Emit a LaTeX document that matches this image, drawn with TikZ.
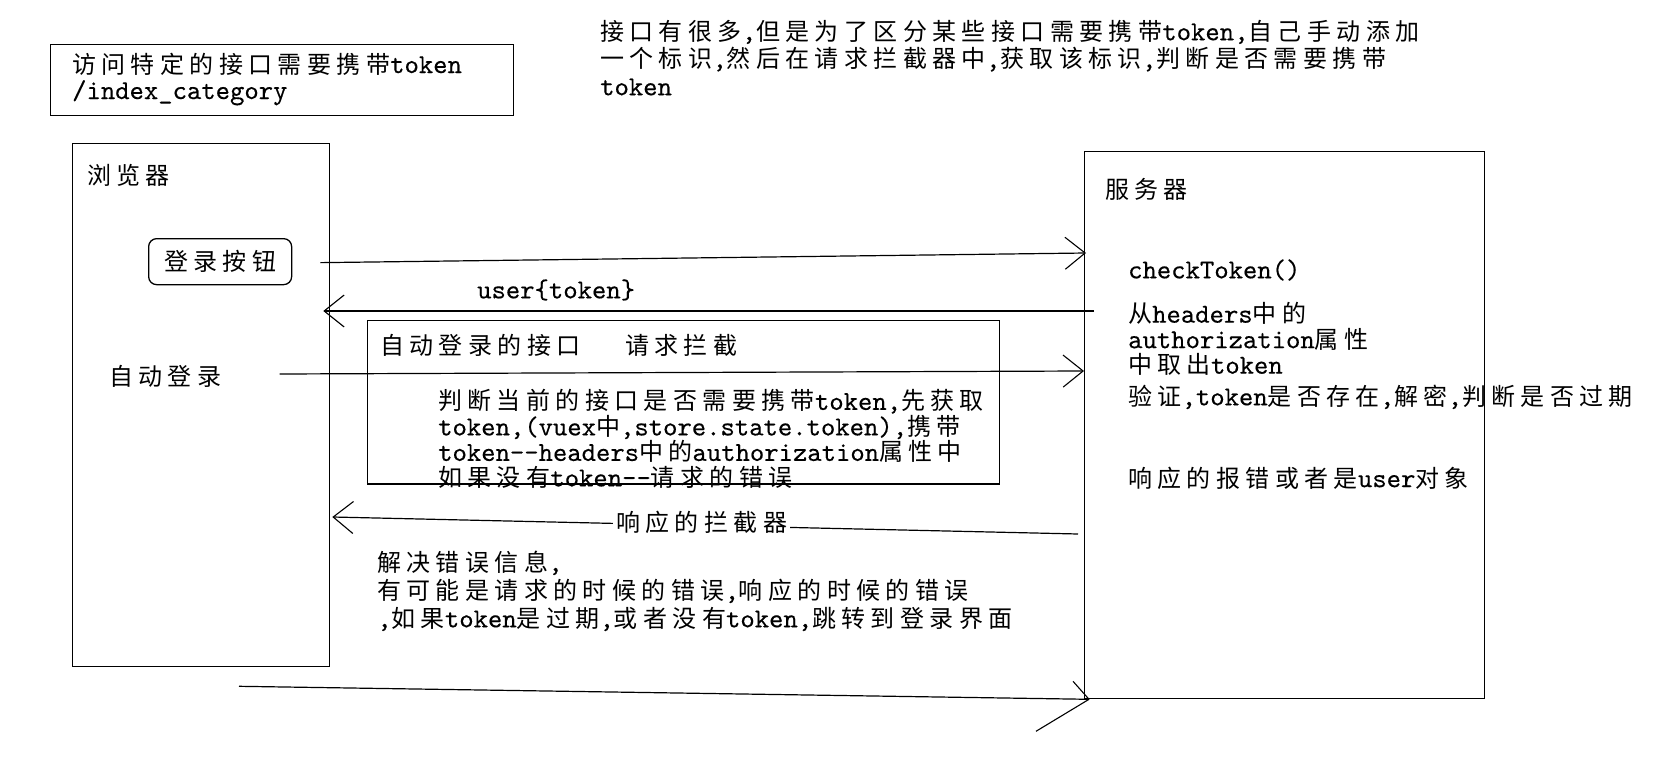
\documentclass[tikz,border=0pt]{standalone}
\usepackage{fontspec}
\usetikzlibrary{arrows.meta,calc}
\newfontfamily\cjkf{Noto Sans CJK SC}[LetterSpace=22.5]
\newfontfamily\latinf{lmmono10-regular.otf}[Scale=1.139,FakeBold=0.3]
\newcount\cjkcnt
\chardef\cjkclass=8
\cjkcnt="4E00
\loop
  \XeTeXcharclass\cjkcnt=\cjkclass\relax
\ifnum\cjkcnt<"9FFF
  \advance\cjkcnt by 1
\repeat
\XeTeXinterchartoks 0 \cjkclass = {\cjkf}
\XeTeXinterchartoks 4095 \cjkclass = {\cjkf}
\XeTeXinterchartoks \cjkclass 0 = {\latinf}
\XeTeXinterchartoks \cjkclass 4095 = {\latinf}
\XeTeXinterchartokenstate=1
\tikzset{
  txt/.style={anchor=west, inner sep=0pt, align=left, text=black,
    font=\latinf\fontsize{24}{#1}\selectfont},
  txt/.default=26,
  framebox/.style={draw=black, line width=1.3pt, anchor=north west, inner sep=0pt},
  conn/.style={draw=black, line width=1.2pt,
    -{Straight Barb[length=20pt,width=32pt,line width=1.1pt]}},
  plainline/.style={draw=black, line width=1.2pt},
}
\begin{document}
\begin{tikzpicture}[x=1pt,y=-1pt]
\fill[white] (0,0) rectangle (1666,773);
\useasboundingbox (0,0) rectangle (1666,773);

% top boxes and notes
\node[framebox, minimum width=463pt, minimum height=71pt] (reqbox) at (50,44) {};
\node[txt=26] (reqtxt) at (72,79) {访问特定的接口需要携带token\\/index\_category};
\node[txt=27.5] (note) at (600,57.7) {接口有很多,但是为了区分某些接口需要携带token,自己手动添加\\一个标识,然后在请求拦截器中,获取该标识,判断是否需要携带\\token};

% browser
\node[framebox, minimum width=257pt, minimum height=523pt] (browser) at (72,143) {};
\node[txt] (browsertxt) at (87,175) {浏览器};
\node[draw=black, line width=1.3pt, rounded corners=8pt, minimum width=143pt, minimum height=46pt,
  inner sep=0pt, anchor=north west, font=\latinf\fontsize{24}{26}\selectfont] (login) at (148,238) {登录按钮};
\node[txt] (auto) at (109,376) {自动登录};

% server
\node[framebox, minimum width=400pt, minimum height=547pt] (server) at (1084,151) {};
\node[txt] (servertxt) at (1105,189) {服务器};
\node[txt] (check) at (1128,270) {checkToken()};
\node[txt=25.5] (fromh) at (1128,339) {从headers中的\\authorization属性\\中取出token};
\node[txt] (verify) at (1128,397) {验证,token是否存在,解密,判断是否过期};
\node[txt] (resp) at (1128,478) {响应的报错或者是user对象};

% request interceptor box
\node[framebox, minimum width=632pt, minimum height=163pt] (icpt) at (367,320) {};
\node[txt] (icpttitle) at (380,345) {自动登录的接口};
\node[txt] (icptreq) at (625,345) {请求拦截};
\node[txt=25.5] (icptbody) at (438,439) {判断当前的接口是否需要携带token,先获取\\token,(vuex中,store.state.token),携带\\token--headers中的authorization属性中\\如果没有token--请求的错误};
\draw[line width=1.3pt] (icpt.south west) -- (icpt.south east);

% labels
\node[txt] (usertok) at (477,290) {user\{token\}};

% connectors
\draw[conn] ($(login.east)+(28,1)$) -- ($(server.north west)+(2,102)$);
\draw[conn] ($(server.north west)+(10,160)$) -- ($(browser.north east)+(-7,168)$);
\draw[conn] ($(auto.east)+(58,-2)$) -- ($(server.north west)+(0,220)$);
\draw[conn] ($(server.north west)+(-6,383)$) -- ($(browser.north east)+(2,374)$);
\node[txt, fill=white, inner sep=3pt] (respicpt) at (613,522) {响应的拦截器};

\node[txt=28] (errtxt) at (377,591) {解决错误信息,\\有可能是请求的时候的错误,响应的时候的错误\\,如果token是过期,或者没有token,跳转到登录界面};

% bottom arrow with hand-drawn barbs
\coordinate (bs) at ($(browser.south west)+(167,19)$);
\coordinate (be) at ($(server.south west)+(5,0)$);
\draw[plainline] (bs) -- (be);
\draw[line width=1.1pt] (be) -- ++(-16,-18);
\draw[line width=1.1pt] (be) -- ++(-53,32);
\end{tikzpicture}
\end{document}
